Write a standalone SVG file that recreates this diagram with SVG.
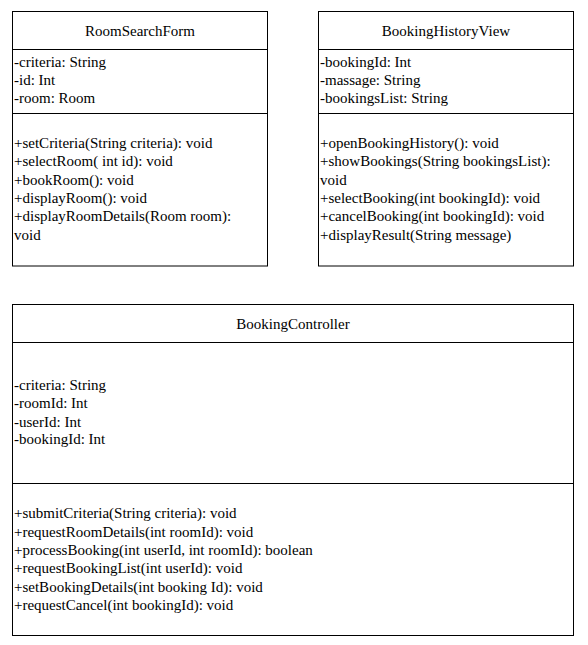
<svg xmlns="http://www.w3.org/2000/svg" width="588" height="645" viewBox="0 0 588 645">
<style>
.box{fill:#fff;stroke:#000;stroke-width:1}
.div{stroke:#000;stroke-width:1}
text{font-family:"Liberation Serif","Times New Roman",serif;font-size:15px;fill:#000}
.title{text-anchor:middle}
</style>
<rect width="588" height="645" fill="#fff"/>
<g id="RoomSearchForm">
<rect class="box" x="12.5" y="11.5" width="255" height="254.5"/>
<line class="div" x1="12.5" y1="49.5" x2="267.5" y2="49.5"/>
<line class="div" x1="12.5" y1="113.5" x2="267.5" y2="113.5"/>
<text class="title" x="140" y="35.5">RoomSearchForm</text>
<text x="14" y="66.7">-criteria: String</text>
<text x="14" y="85">-id: Int</text>
<text x="14" y="103.4">-room: Room</text>
<text x="14" y="148">+setCriteria(String criteria): void</text>
<text x="14" y="166.35">+selectRoom( int id): void</text>
<text x="14" y="184.7">+bookRoom(): void</text>
<text x="14" y="203.05">+displayRoom(): void</text>
<text x="14" y="221.4">+displayRoomDetails(Room room):</text>
<text x="14" y="239.75">void</text>
</g>
<g id="BookingHistoryView">
<rect class="box" x="318.5" y="11.5" width="255" height="254.5"/>
<line class="div" x1="318.5" y1="49.5" x2="573.5" y2="49.5"/>
<line class="div" x1="318.5" y1="113.5" x2="573.5" y2="113.5"/>
<text class="title" x="446" y="35.5">BookingHistoryView</text>
<text x="320" y="66.7">-bookingId: Int</text>
<text x="320" y="85">-massage: String</text>
<text x="320" y="103.4">-bookingsList: String</text>
<text x="320" y="148">+openBookingHistory(): void</text>
<text x="320" y="166.35">+showBookings(String bookingsList):</text>
<text x="320" y="184.7">void</text>
<text x="320" y="203.05">+selectBooking(int bookingId): void</text>
<text x="320" y="221.4">+cancelBooking(int bookingId): void</text>
<text x="320" y="239.75">+displayResult(String message)</text>
</g>
<g id="BookingController">
<rect class="box" x="12.5" y="304.5" width="561" height="331"/>
<line class="div" x1="12.5" y1="342.5" x2="573.5" y2="342.5"/>
<line class="div" x1="12.5" y1="483.5" x2="573.5" y2="483.5"/>
<text class="title" x="293" y="328.8">BookingController</text>
<text x="14" y="389.7">-criteria: String</text>
<text x="14" y="408">-roomId: Int</text>
<text x="14" y="426.5">-userId: Int</text>
<text x="14" y="444.2">-bookingId: Int</text>
<text x="14" y="518">+submitCriteria(String criteria): void</text>
<text x="14" y="536.7">+requestRoomDetails(int roomId): void</text>
<text x="14" y="555.4">+processBooking(int userId, int roomId): boolean</text>
<text x="14" y="573">+requestBookingList(int userId): void</text>
<text x="14" y="591.7">+setBookingDetails(int booking Id): void</text>
<text x="14" y="610.4">+requestCancel(int bookingId): void</text>
</g>
<g id="connectors"></g>
</svg>
